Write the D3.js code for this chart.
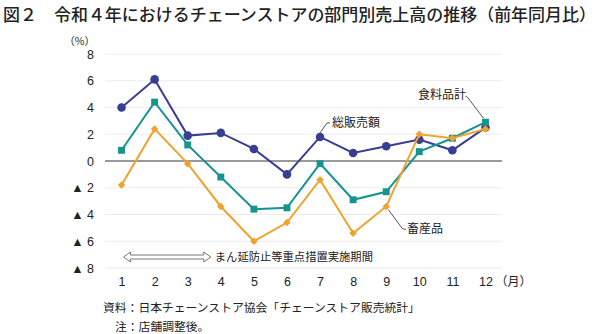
<!DOCTYPE html>
<html>
<head>
<meta charset="utf-8">
<script src="https://cdn.jsdelivr.net/npm/d3@7"></script>
<style>
  body { margin: 0; background: #fff; }
  svg text { font-family: "Noto Sans CJK JP", sans-serif; fill: #222; }
  .num { font-family: "Liberation Sans", "Noto Sans CJK JP", sans-serif; }
</style>
</head>
<body>
<script>
const months = ["1", "2", "3", "4", "5", "6", "7", "8", "9", "10", "11", "12"];
const totalSales = [4.0, 6.1, 1.9, 2.1, 0.9, -1.0, 1.8, 0.6, 1.1, 1.6, 0.8, 2.5];
const foodTotal = [0.8, 4.4, 1.2, -1.2, -3.6, -3.5, -0.2, -2.9, -2.3, 0.7, 1.7, 2.9];
const livestock = [-1.8, 2.4, -0.2, -3.4, -6.0, -4.6, -1.4, -5.4, -3.4, 2.0, 1.7, 2.4];
const yTicks = [8, 6, 4, 2, 0, -2, -4, -6, -8];

const width = 600, height = 334;
const margin = { top: 54, right: 98, bottom: 66, left: 105 };

const svg = d3.select("body").append("svg")
    .attr("width", width)
    .attr("height", height);

const x = d3.scalePoint()
    .domain(months)
    .range([margin.left, width - margin.right])
    .padding(0.5);

const y = d3.scaleLinear()
    .domain([-8, 8])
    .range([height - margin.bottom, margin.top]);

// title
svg.append("text")
    .attr("x", 3).attr("y", 21)
    .attr("font-size", 16.5)
    .attr("font-weight", 500)
    .attr("textLength", 593)
    .attr("lengthAdjust", "spacingAndGlyphs")
    .attr("xml:space", "preserve")
    .text("図２　令和４年におけるチェーンストアの部門別売上高の推移（前年同月比）");

// gridlines
svg.append("g")
    .selectAll("line")
    .data(yTicks)
    .join("line")
    .attr("x1", margin.left)
    .attr("x2", width - margin.right)
    .attr("y1", d => y(d))
    .attr("y2", d => y(d))
    .attr("stroke", d => d === 0 ? "#9a9a9a" : "#ececec")
    .attr("stroke-width", d => d === 0 ? 2 : 1.2);

// y axis labels
const yAxis = d3.axisLeft(y)
    .tickValues(yTicks)
    .tickSize(0)
    .tickPadding(0)
    .tickFormat(d => d < 0 ? "▲ " + Math.abs(d) : d);

svg.append("g")
    .attr("transform", `translate(${margin.left - 11},0)`)
    .call(yAxis)
    .call(g => g.select(".domain").remove())
    .call(g => g.selectAll("text")
        .attr("class", "num")
        .attr("font-size", 12.5)
        .attr("fill", "#222"));

svg.append("text")
    .attr("x", 95).attr("y", 45)
    .attr("text-anchor", "end")
    .attr("font-size", 10.5)
    .text("（%）");

// x axis labels
const xAxis = d3.axisBottom(x).tickSize(0).tickPadding(0);
svg.append("g")
    .attr("transform", `translate(0,${height - 57})`)
    .call(xAxis)
    .call(g => g.select(".domain").remove())
    .call(g => g.selectAll("text")
        .attr("class", "num")
        .attr("font-size", 12.5)
        .attr("fill", "#222"));

svg.append("text")
    .attr("x", x("12") + 10).attr("y", height - 48)
    .attr("font-size", 12)
    .text("（月）");

// emergency measures period arrow
const arrowY = 257;
const ax1 = x("1") + 2, ax2 = x("4") - 10;
svg.append("path")
    .attr("d", `M${ax1},${arrowY} l7,-5 v3 H${ax2 - 7} v-3 l7,5 l-7,5 v-3 H${ax1 + 7} v3 Z`)
    .attr("fill", "#fff")
    .attr("stroke", "#777")
    .attr("stroke-width", 1);

svg.append("text")
    .attr("x", ax2 + 4).attr("y", arrowY + 4)
    .attr("font-size", 11.3)
    .text("まん延防止等重点措置実施期間");

const series = [
    { name: "total", values: totalSales, color: "#383f92", shape: d3.symbolCircle, size: 58 },
    { name: "food", values: foodTotal, color: "#17948f", shape: d3.symbolSquare, size: 48 },
    { name: "livestock", values: livestock, color: "#f0a22e", shape: d3.symbolDiamond2, size: 36 }
];

const line = d3.line()
    .x((d, i) => x(months[i]))
    .y(d => y(d));

series.forEach(s => {
    const g = svg.append("g");
    g.append("path")
        .datum(s.values)
        .attr("d", line)
        .attr("fill", "none")
        .attr("stroke", s.color)
        .attr("stroke-width", 2);
    g.selectAll("path.pt")
        .data(s.values)
        .join("path")
        .attr("class", "pt")
        .attr("transform", (d, i) => `translate(${x(months[i])},${y(d)})`)
        .attr("d", d3.symbol(s.shape, s.size))
        .attr("fill", s.color);
});

// series callouts
const callouts = [
    { text: "総販売額", month: "7", value: totalSales[6], path: (px, py) => `M${px},${py - 4} L${px + 7},${py - 14} L${px + 10},${py - 14}`, tx: 332, ty: 127 },
    { text: "食料品計", month: "12", value: foodTotal[11], path: (px, py) => `M${px - 2},${py - 4} L${px - 18},${py - 25} L${px - 20},${py - 26}`, tx: 418, ty: 99 },
    { text: "畜産品", month: "9", value: livestock[8], path: (px, py) => `M${px + 2},${py + 3} L${px + 16},${py + 22} L${px + 20},${py + 23}`, tx: 407, ty: 233 }
];

callouts.forEach(c => {
    const px = x(c.month), py = y(c.value);
    svg.append("path")
        .attr("d", c.path(px, py))
        .attr("fill", "none")
        .attr("stroke", "#555")
        .attr("stroke-width", 1);
    svg.append("text")
        .attr("x", c.tx).attr("y", c.ty)
        .attr("font-size", 12)
        .text(c.text);
});

// source notes
svg.append("text")
    .attr("x", 103).attr("y", 312)
    .attr("font-size", 11.8)
    .text("資料：日本チェーンストア協会「チェーンストア販売統計」");

svg.append("text")
    .attr("x", 115).attr("y", 331)
    .attr("font-size", 11.8)
    .text("注：店舗調整後。");
</script>
</body>
</html>
